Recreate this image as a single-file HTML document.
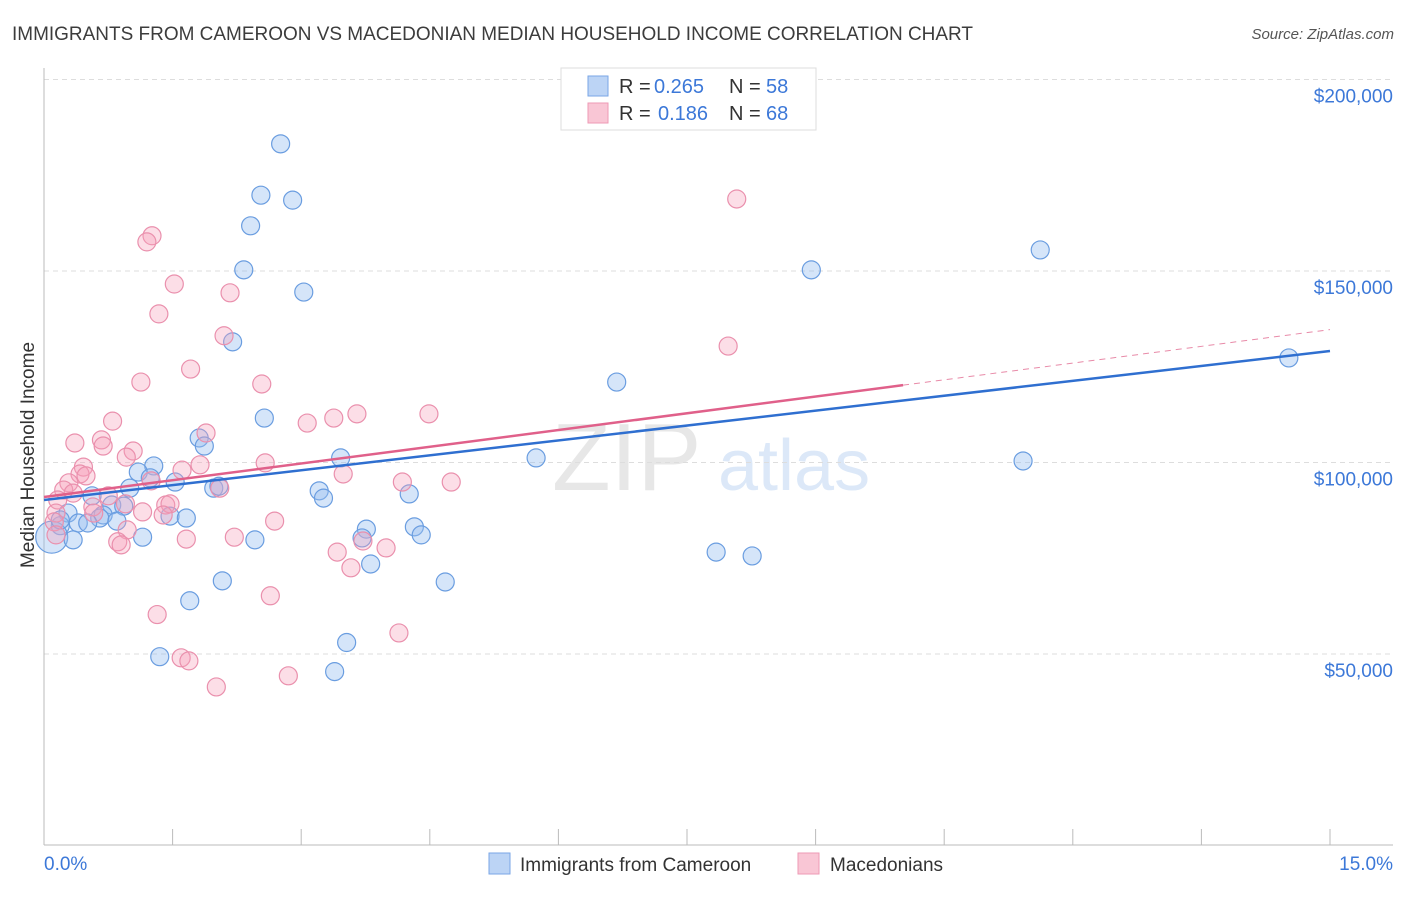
<!DOCTYPE html>
<html><head><meta charset="utf-8"><style>
body{margin:0;background:#fff;font-family:"Liberation Sans",sans-serif;}
svg text{font-family:"Liberation Sans",sans-serif;}
</style></head><body>
<svg id="chart" width="1406" height="892">
<text x="12" y="40" font-size="19" fill="#3c3c3c" textLength="961" lengthAdjust="spacingAndGlyphs">IMMIGRANTS FROM CAMEROON VS MACEDONIAN MEDIAN HOUSEHOLD INCOME CORRELATION CHART</text>
<text x="1394" y="39" font-size="15" fill="#555" font-style="italic" text-anchor="end">Source: ZipAtlas.com</text>
<g opacity="0.35">
<text x="552" y="490" font-size="96" font-family="Liberation Serif" fill="#bbb">ZIP</text>
<text x="718" y="490" font-size="72" fill="#9cc0ec">atlas</text>
</g>
<g id="grid"></g>
<g id="axes"></g>
<g id="marks"></g>
<text transform="translate(34,455) rotate(-90)" font-size="19" fill="#333" text-anchor="middle">Median Household Income</text>
<g>
<rect x="561" y="68" width="255" height="62" fill="#fff" stroke="#ddd"/>
<rect x="588" y="76" width="20" height="20" fill="#bcd4f5" stroke="#7aa6e6"/>
<rect x="588" y="103" width="20" height="20" fill="#f9c6d5" stroke="#ee9ab5"/>
<text y="93" font-size="20" fill="#333"><tspan x="619">R =</tspan><tspan x="654" fill="#3c78d8">0.265</tspan><tspan x="729">N =</tspan><tspan x="766" fill="#3c78d8">58</tspan></text>
<text y="120" font-size="20" fill="#333"><tspan x="619">R =</tspan><tspan x="658" fill="#3c78d8">0.186</tspan><tspan x="729">N =</tspan><tspan x="766" fill="#3c78d8">68</tspan></text>
</g>
<g>
<rect x="489" y="853" width="21" height="21" fill="#bcd4f5" stroke="#7aa6e6"/>
<text x="520" y="871" font-size="19" fill="#333">Immigrants from Cameroon</text>
<rect x="798" y="853" width="21" height="21" fill="#f9c6d5" stroke="#ee9ab5"/>
<text x="830" y="871" font-size="19" fill="#333">Macedonians</text>
</g>
</svg>
<script>
const yTicks=[50000,100000,150000,200000];
const yTickLabels=["$50,000","$100,000","$150,000","$200,000"];
const xTickLabels=["0.0%","15.0%"];
const blueX=[2.76,2.53,2.90,2.41,2.33,3.03,2.20,8.95,11.62,14.52,6.68,2.57,1.81,1.87,5.74,11.42,3.46,1.28,1.10,1.24,1.53,1.00,1.98,2.04,3.21,3.26,4.26,0.56,0.79,0.93,0.28,0.69,0.65,1.47,1.66,0.85,0.40,0.51,0.19,4.32,3.76,4.40,3.71,1.15,2.46,0.09,7.84,8.26,3.81,2.08,4.68,1.70,3.53,1.35,3.39,0.19,0.34];
const blueY=[183.2,169.8,168.5,161.8,150.3,144.5,131.5,150.3,155.5,127.3,121.0,111.6,106.4,104.3,101.2,100.4,101.2,99.1,97.5,96.0,94.9,93.3,93.3,93.8,92.6,90.7,91.8,91.3,88.9,88.6,86.8,86.3,85.5,86.0,85.5,84.7,84.2,84.2,83.5,83.2,82.6,81.1,80.3,80.5,79.8,80.5,76.6,75.6,73.5,69.1,68.8,63.9,53.0,49.3,45.4,85.0,79.8];
const pinkX=[8.08,1.26,1.20,1.52,2.17,1.34,2.10,7.98,1.71,1.13,2.54,4.49,3.65,3.38,3.07,0.80,1.89,0.36,0.67,0.69,1.04,0.96,2.58,1.82,0.46,0.42,0.49,1.61,3.49,1.25,0.29,4.18,4.75,0.23,2.05,0.34,0.75,0.16,1.42,1.47,0.57,0.95,1.15,0.14,0.58,1.39,2.69,0.12,0.97,0.14,2.22,1.66,3.72,0.86,0.90,3.99,3.42,3.58,2.64,1.32,4.14,1.60,1.69,2.85,2.01];
const pinkY=[168.8,159.2,157.6,146.6,144.3,138.8,133.1,130.4,124.4,121.0,120.5,112.7,112.7,111.6,110.3,110.8,107.7,105.1,105.9,104.3,103.0,101.4,99.9,99.4,98.8,97.0,96.5,98.0,97.0,95.2,94.7,94.9,94.9,92.8,93.3,92.0,91.3,90.2,88.9,89.2,88.4,89.2,87.1,86.8,86.8,86.3,84.7,84.5,82.4,81.1,80.5,80.0,79.5,79.3,78.5,77.7,76.6,72.5,65.2,60.3,55.5,49.0,48.2,44.3,41.4];
const blueTrend=[90.2,129.1];
const pinkTrend=[91.0,134.7];
const pinkSolidEnd=10.02;
const NS="http://www.w3.org/2000/svg";
function xs(v){return 44+v/15*1286;}
function ys(k){return 845.5-k*1000/50000*191.5;}
function mk(tag,attrs,parent){const e=document.createElementNS(NS,tag);for(const k in attrs)e.setAttribute(k,attrs[k]);parent.appendChild(e);return e;}
const grid=document.getElementById('grid'),axes=document.getElementById('axes'),marks=document.getElementById('marks');
yTicks.forEach((t,i)=>{
 const y=ys(t/1000);
 const l=mk('line',{x1:44,x2:1393,y1:y,y2:y,stroke:'#ddd','stroke-dasharray':'5,4'},grid);
 
 
 const tx=mk('text',{x:1393,y:y+23,'font-size':19,fill:'#3c78d8','text-anchor':'end'},grid);
 tx.textContent=yTickLabels[i];
 
 
});
mk('line',{x1:44,x2:44,y1:68,y2:845,stroke:'#bbb'},axes);
mk('line',{x1:44,x2:1393,y1:845,y2:845,stroke:'#bbb'},axes);
for(let i=0;i<=10;i++){const x=xs(i*1.5);mk('line',{x1:x,x2:x,y1:829,y2:845,stroke:'#bbb'},axes);}
const xl0=mk('text',{x:44,y:870,'font-size':19,fill:'#3c78d8'},axes);xl0.textContent=xTickLabels[0];


const xl1=mk('text',{x:1393,y:870,'font-size':19,fill:'#3c78d8','text-anchor':'end'},axes);xl1.textContent=xTickLabels[1];


blueX.forEach((x,i)=>{
 const r=(i===45)?16:9;
 const c=mk('circle',{cx:xs(x),cy:ys(blueY[i]),r:r,fill:'rgba(150,190,240,0.4)',stroke:'#6a9de0','stroke-width':1.2},marks);
 
 
});
pinkX.forEach((x,i)=>{
 const c=mk('circle',{cx:xs(x),cy:ys(pinkY[i]),r:9,fill:'rgba(245,160,185,0.35)',stroke:'#ea90ad','stroke-width':1.2},marks);
 
 
});
const bl=mk('line',{x1:xs(0),y1:ys(blueTrend[0]),x2:xs(15),y2:ys(blueTrend[1]),stroke:'#2f6fd0','stroke-width':2.5},marks);


const pe=pinkTrend[0]+(pinkTrend[1]-pinkTrend[0])*pinkSolidEnd/15;
const pl=mk('line',{x1:xs(0),y1:ys(pinkTrend[0]),x2:xs(pinkSolidEnd),y2:ys(pe),stroke:'#e0608a','stroke-width':2.5},marks);


const pd=mk('line',{x1:xs(pinkSolidEnd),y1:ys(pe),x2:xs(15),y2:ys(pinkTrend[1]),stroke:'#e88aa8','stroke-width':1,'stroke-dasharray':'6,5'},marks);


</script>
</body></html>
